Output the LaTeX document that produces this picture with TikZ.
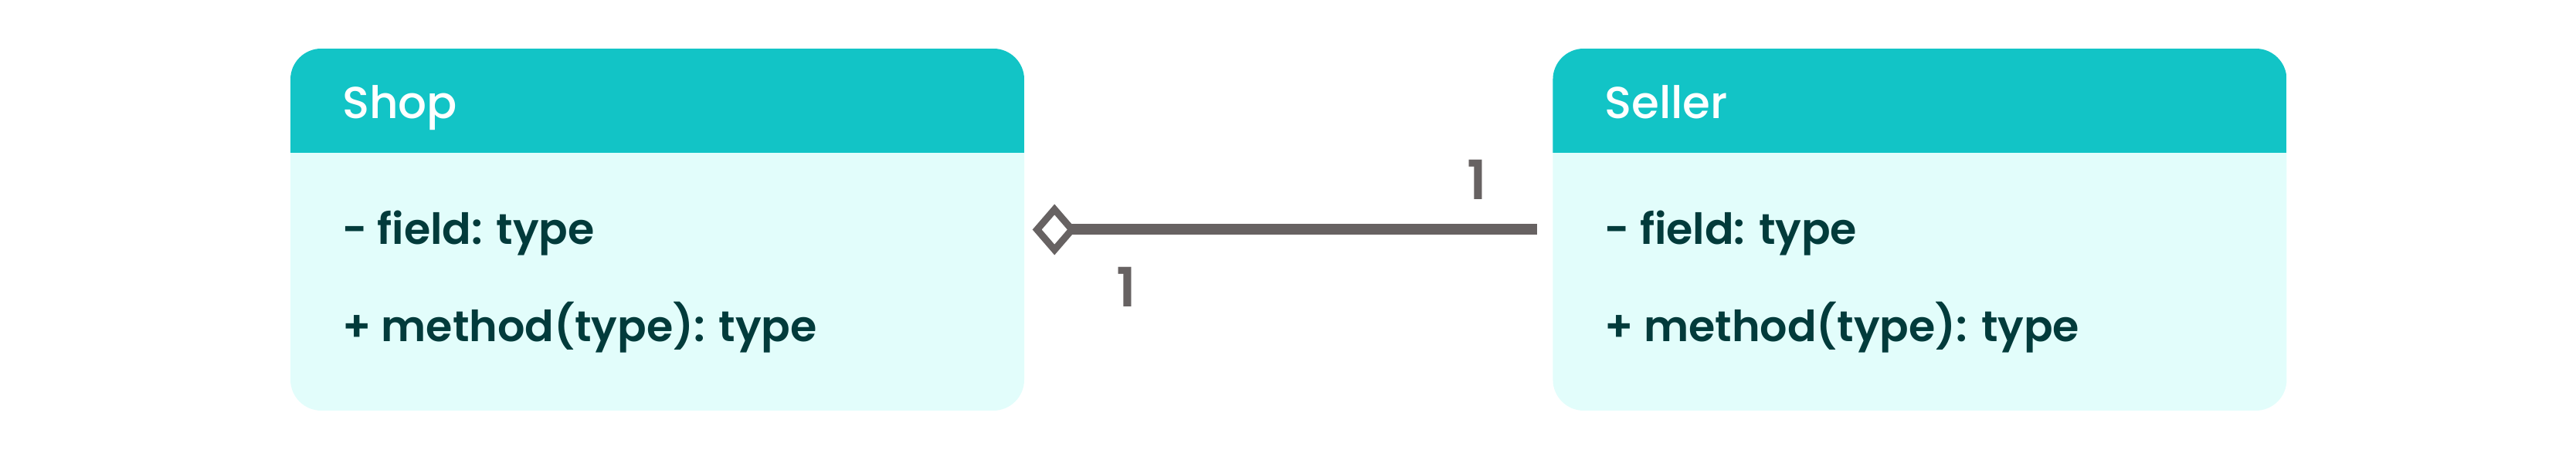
\documentclass[tikz,border=0pt]{standalone}
\usepackage{fontspec}
\setmainfont{Poppins}[BoldFont={Poppins SemiBold}]
\newfontfamily\mediumfont{Poppins Medium}
\usetikzlibrary{positioning}
\usetikzlibrary{arrows.meta}

\definecolor{headteal}{HTML}{12C4C6}
\definecolor{bodymint}{HTML}{E2FDFB}
\definecolor{textdark}{HTML}{023B3B}
\definecolor{linegray}{HTML}{676262}

\tikzset{
  classbox/.style={rectangle, rounded corners=0.4cm, fill=bodymint,
    minimum width=9.5cm, minimum height=4.69cm, inner sep=0pt,
    path picture={\fill[headteal, sharp corners] (path picture bounding box.north west)
      rectangle ([yshift=-1.35cm]path picture bounding box.north east);}},
  classname/.style={anchor=base west, inner sep=0pt, text=white,
    font=\fontsize{16.5}{19}\mediumfont},
  member/.style={anchor=base west, inner sep=0pt, text=textdark,
    font=\fontsize{15.8}{19}\selectfont\bfseries},
  mult/.style={inner sep=0pt, text=linegray,
    font=\fontsize{20}{24}\selectfont\bfseries},
  aggr/.style={draw=linegray, line width=0.14cm,
    {Diamond[open, length=0.57cm, width=0.66cm, line width=0.09cm]}-}
}

\begin{document}
\begin{tikzpicture}
  \useasboundingbox (0,0) rectangle (33.35,5.96);

  \node [classbox] (shop) at (8.51,2.985) {};
  \node [classbox, right=6.83cm of shop] (seller) {};

  \node [classname] (shopname) at ([shift={(0.67,-0.91)}]shop.north west) {Shop};
  \node [member] (shopfield) at ([shift={(0.67,-2.54)}]shop.north west) {- field: type};
  \node [member] (shopmethod) at ([shift={(0.67,-3.80)}]shop.north west) {+ method(type): type};

  \node [classname] (sellername) at ([shift={(0.67,-0.91)}]seller.north west) {Seller};
  \node [member] (sellerfield) at ([shift={(0.67,-2.54)}]seller.north west) {- field: type};
  \node [member] (sellermethod) at ([shift={(0.67,-3.80)}]seller.north west) {+ method(type): type};

  \coordinate (diamondtip) at ([xshift=0.1cm]shop.east);
  \coordinate (lineend) at ([xshift=-0.2cm]seller.west);
  \draw [aggr] (diamondtip) -- (lineend);

  \node [mult] (shopmult) at ([shift={(1.21,-0.745)}]diamondtip) {1};
  \node [mult] (sellermult) at ([shift={(-0.78,0.645)}]lineend) {1};
\end{tikzpicture}
\end{document}
